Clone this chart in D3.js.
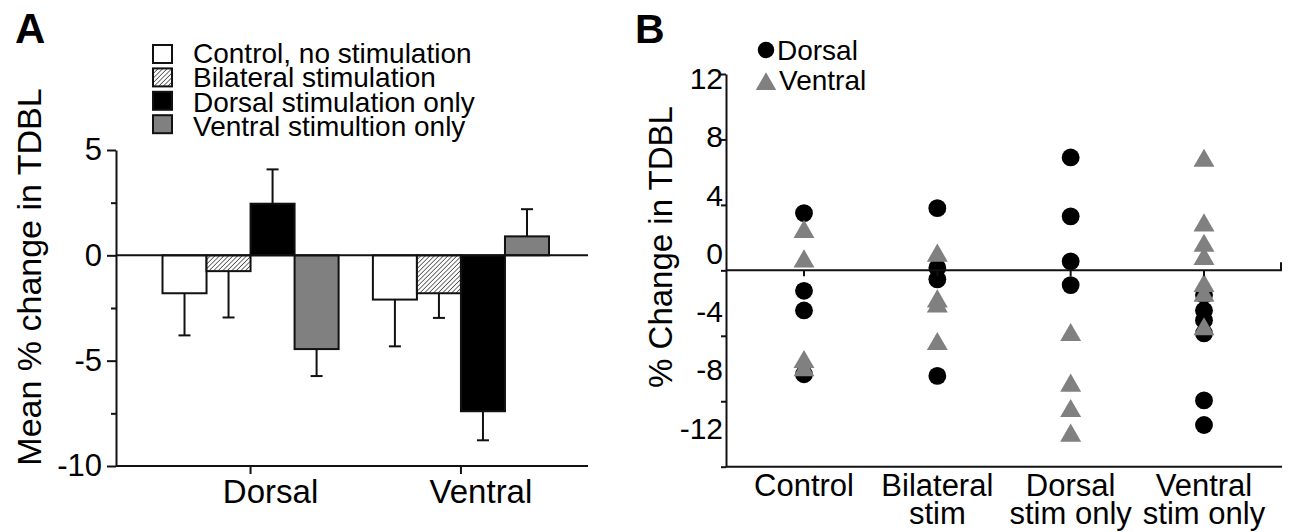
<!DOCTYPE html>
<html>
<head>
<meta charset="utf-8">
<script src="https://cdn.jsdelivr.net/npm/d3@7"></script>
<style>
  body { margin: 0; background: #fff; }
  svg { display: block; font-family: "Liberation Sans", Arial, sans-serif; }
</style>
</head>
<body>
<svg id="chart" width="1296" height="532"></svg>
<script>
// panel A data
var groupsA = ["Dorsal", "Ventral"];
var seriesA = ["Control, no stimulation", "Bilateral stimulation", "Dorsal stimulation only", "Ventral stimultion only"];
var meanDorsal = [-1.8, -0.75, 2.45, -4.45];
var meanVentral = [-2.1, -1.8, -7.4, 0.9];
var semDorsal = [2.0, 2.2, 1.63, 1.28];
var semVentral = [2.22, 1.17, 1.38, 1.29];
var ticksA = [5, 0, -5, -10];
var minorA = [2.5, -2.5, -7.5];

// panel B data
var catsB = ["Control", "Bilateral stim", "Dorsal stim only", "Ventral stim only"];
var catLines = [["Control"], ["Bilateral", "stim"], ["Dorsal", "stim only"], ["Ventral", "stim only"]];
var dorsalB = [
  [3.5, -1.25, -2.45, -6.35],
  [3.8, 0.15, -0.55, -6.45],
  [6.9, 3.3, 0.55, -0.9],
  [-1.5, -2.45, -3.05, -3.85, -7.95, -9.45]
];
var ventralB = [
  [2.35, 0.55, -5.6, -6.1],
  [0.9, -1.9, -2.2, -4.5],
  [-3.95, -7.05, -8.6, -10.1],
  [6.7, 2.75, 1.5, 0.7, -0.95, -1.55, -3.6]
];
var ticksB = [12, 8, 4, 0, -4, -8, -12];

var fills = ["#ffffff", "url(#hatch)", "#000000", "#808080"];
var ink = "#111";

var svg = d3.select("#chart");

var defs = svg.append("defs");
var pat = defs.append("pattern")
  .attr("id", "hatch")
  .attr("patternUnits", "userSpaceOnUse")
  .attr("width", 3.2).attr("height", 3.2)
  .attr("patternTransform", "rotate(45)");
pat.append("rect").attr("width", 3.2).attr("height", 3.2).attr("fill", "#fff");
pat.append("line").attr("x1", 0).attr("y1", 0).attr("x2", 0).attr("y2", 3.2)
  .attr("stroke", "#333").attr("stroke-width", 1.4);

// ---------------- panel A ----------------
var axA = 116, endA = 588;
var yA = d3.scaleLinear().domain([-10, 5]).range([466, 150]);
var x0 = d3.scaleBand().domain(groupsA).range([162.5, 549]).paddingInner(0.163);
var x1 = d3.scaleBand().domain(d3.range(seriesA.length)).range([0, x0.bandwidth()]);

var gA = svg.append("g");

gA.append("text").attr("x", 15).attr("y", 43).attr("font-size", 42)
  .attr("font-weight", "bold").text("A");

gA.append("text")
  .attr("transform", "translate(41," + 277 + ") rotate(-90)")
  .attr("text-anchor", "middle").attr("font-size", 34)
  .text("Mean % change in TDBL");

// legend
var leg = gA.append("g");
seriesA.forEach(function (s, i) {
  var cy = 54 + i * 23.4;
  leg.append("rect").attr("x", 153).attr("y", cy - 9).attr("width", 19).attr("height", 18)
    .attr("fill", fills[i]).attr("stroke", ink).attr("stroke-width", 2);
  leg.append("text").attr("x", 193).attr("y", 63 + i * 24.4).attr("font-size", 28).text(s);
});

// y axis
var yAxisA = gA.append("g").attr("transform", "translate(" + axA + ",0)")
  .call(d3.axisLeft(yA).tickValues(ticksA).tickSize(9).tickSizeOuter(0).tickPadding(5)
    .tickFormat(function (d) { return String(d); }));
yAxisA.selectAll("text").attr("font-size", 31).attr("fill", "#000");
gA.append("g").attr("transform", "translate(" + axA + ",0)")
  .call(d3.axisLeft(yA).tickValues(minorA).tickSize(5).tickFormat(""))
  .select(".domain").remove();
gA.selectAll(".domain, .tick line").attr("stroke", ink).attr("stroke-width", 2);

// bottom axis
gA.append("line").attr("x1", axA).attr("x2", endA).attr("y1", yA(-10)).attr("y2", yA(-10))
  .attr("stroke", ink).attr("stroke-width", 2);

var groupData = [
  { g: "Dorsal", m: meanDorsal, s: semDorsal },
  { g: "Ventral", m: meanVentral, s: semVentral }
];

var grp = gA.selectAll(".grp").data(groupData).enter().append("g")
  .attr("transform", function (d) { return "translate(" + x0(d.g) + ",0)"; });

function rows(d) {
  return d.m.map(function (v, i) { return { i: i, v: v, s: d.s[i] }; });
}
function tip(d) { return yA(d.v + (d.v < 0 ? -d.s : d.s)); }
function mid(d) { return x1(d.i) + x1.bandwidth() / 2; }

grp.selectAll("rect").data(rows).enter().append("rect")
  .attr("x", function (d) { return x1(d.i); })
  .attr("width", x1.bandwidth())
  .attr("y", function (d) { return yA(Math.max(0, d.v)); })
  .attr("height", function (d) { return Math.abs(yA(d.v) - yA(0)); })
  .attr("fill", function (d) { return fills[d.i]; })
  .attr("stroke", ink).attr("stroke-width", 2);

var err = grp.selectAll(".err").data(rows).enter().append("g");
err.append("line")
  .attr("x1", mid).attr("x2", mid)
  .attr("y1", function (d) { return yA(d.v); })
  .attr("y2", tip)
  .attr("stroke", ink).attr("stroke-width", 2);
err.append("line")
  .attr("x1", function (d) { return mid(d) - 6; })
  .attr("x2", function (d) { return mid(d) + 6; })
  .attr("y1", tip).attr("y2", tip)
  .attr("stroke", ink).attr("stroke-width", 2);

// zero line
gA.append("line").attr("x1", axA).attr("x2", endA).attr("y1", yA(0)).attr("y2", yA(0))
  .attr("stroke", ink).attr("stroke-width", 2);

// group ticks + labels
groupsA.forEach(function (g) {
  var cx = x0(g) + x0.bandwidth() / 2;
  gA.append("line").attr("x1", cx).attr("x2", cx).attr("y1", yA(-10)).attr("y2", yA(-10) + 8)
    .attr("stroke", ink).attr("stroke-width", 2);
  gA.append("text").attr("x", cx + 20).attr("y", 503).attr("text-anchor", "middle")
    .attr("font-size", 33).text(g);
});

// ---------------- panel B ----------------
var axB = 726, endB = 1282;
var yB = d3.scaleLinear().domain([-12, 12]).range([466.7, 74]);
// the printed tick labels sit on their own, tighter spacing
var yLab = d3.scaleLinear().domain([-12, 12]).range([427.8, 78.4]);
var xB = d3.scalePoint().domain(catsB).range([804, 1204]);

var gB = svg.append("g");

gB.append("text").attr("x", 635).attr("y", 43).attr("font-size", 41)
  .attr("font-weight", "bold").text("B");

gB.append("text")
  .attr("transform", "translate(672," + 247 + ") rotate(-90)")
  .attr("text-anchor", "middle").attr("font-size", 33)
  .text("% Change in TDBL");

var yAxisB = gB.append("g").attr("transform", "translate(" + axB + ",0)")
  .call(d3.axisLeft(yB).tickValues(ticksB).tickSize(5).tickSizeOuter(0).tickFormat(""));
yAxisB.selectAll(".domain, .tick line").attr("stroke", ink).attr("stroke-width", 2);

gB.selectAll(".ylab").data(ticksB).enter().append("text")
  .attr("x", axB - 3).attr("y", function (d) { return yLab(d); })
  .attr("dy", "0.36em").attr("text-anchor", "end").attr("font-size", 30)
  .text(function (d) { return String(d); });

gB.append("line").attr("x1", axB).attr("x2", endB).attr("y1", yB(-12)).attr("y2", yB(-12))
  .attr("stroke", ink).attr("stroke-width", 2);

var circ = d3.symbol().type(d3.symbolCircle).size(250);
var tri = d3.symbol().type(d3.symbolTriangle).size(190);

var ptsD = [], ptsV = [];
catsB.forEach(function (c, i) {
  dorsalB[i].forEach(function (v) { ptsD.push({ c: c, v: v }); });
  ventralB[i].forEach(function (v) { ptsV.push({ c: c, v: v }); });
});

gB.selectAll(".dot").data(ptsD).enter().append("path")
  .attr("d", circ)
  .attr("transform", function (d) { return "translate(" + xB(d.c) + "," + yB(d.v) + ")"; })
  .attr("fill", "#000");

gB.selectAll(".tri").data(ptsV).enter().append("path")
  .attr("d", tri)
  .attr("transform", function (d) { return "translate(" + xB(d.c) + "," + yB(d.v) + ")"; })
  .attr("fill", "#808080");

// zero axis with category ticks
gB.append("line").attr("x1", axB).attr("x2", endB).attr("y1", yB(0)).attr("y2", yB(0))
  .attr("stroke", ink).attr("stroke-width", 2);
catsB.forEach(function (c, i) {
  gB.append("line").attr("x1", xB(c)).attr("x2", xB(c)).attr("y1", yB(0)).attr("y2", yB(0) + 6)
    .attr("stroke", ink).attr("stroke-width", 2);
  catLines[i].forEach(function (t, j) {
    gB.append("text").attr("x", xB(c)).attr("y", 496 + j * 28).attr("text-anchor", "middle")
      .attr("font-size", 31).text(t);
  });
});
gB.append("line").attr("x1", endB - 1).attr("x2", endB - 1).attr("y1", yB(0)).attr("y2", yB(0) - 8)
  .attr("stroke", ink).attr("stroke-width", 2);

// legend B
gB.append("path").attr("d", d3.symbol().type(d3.symbolCircle).size(215))
  .attr("transform", "translate(766,50)").attr("fill", "#000");
gB.append("text").attr("x", 777).attr("y", 60).attr("font-size", 28).text("Dorsal");
gB.append("path").attr("d", d3.symbol().type(d3.symbolTriangle).size(180))
  .attr("transform", "translate(766,84)").attr("fill", "#808080");
gB.append("text").attr("x", 779).attr("y", 90).attr("font-size", 28).text("Ventral");
</script>
</body>
</html>
